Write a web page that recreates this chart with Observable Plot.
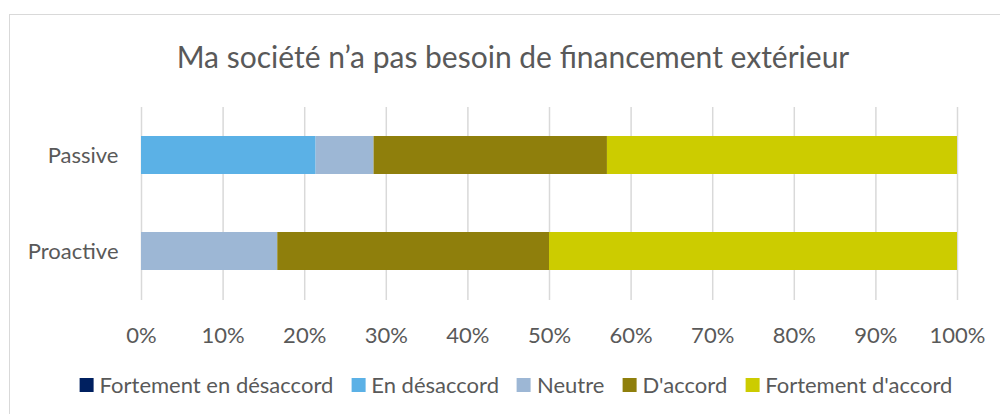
<!DOCTYPE html>
<html><head><meta charset="utf-8">
<script src="https://cdn.jsdelivr.net/npm/d3@7"></script>
<script src="https://cdn.jsdelivr.net/npm/@observablehq/plot@0.6"></script>
<style>
body{margin:0;background:#fff;}
#wrap{position:relative;width:1000px;height:414px;overflow:hidden;font-family:Lato,sans-serif;color:#595959;}
#frame{position:absolute;left:9px;top:14px;width:1000px;height:399px;border-left:1.5px solid #d9d9d9;border-top:1.5px solid #d9d9d9;}
#title{position:absolute;top:41px;left:513px;transform:translateX(-50%);font-size:30px;line-height:1;white-space:nowrap;}
#chart{position:absolute;left:0;top:0;}
#legend{position:absolute;top:374px;left:516px;transform:translateX(-50%);display:flex;gap:18px;white-space:nowrap;font-size:22px;line-height:22px;}
.item{display:flex;align-items:center;gap:6px}
.sw{width:14px;height:14px;display:inline-block}
</style></head><body>
<div id="wrap"><div id="frame"></div><div id="chart"></div><div id="title"></div><div id="legend"></div></div>
<script>
const title = "Ma société n’a pas besoin de financement extérieur";
const groups = ["Passive", "Proactive"];
const categories = ["Fortement en désaccord", "En désaccord", "Neutre", "D'accord", "Fortement d'accord"];
const colors = ["#002060", "#5BB1E6", "#9DB7D5", "#8F7F0C", "#CCCC00"];
const passive = [0, 21.4, 7.1, 28.6, 42.9];
const proactive = [0, 0, 16.7, 33.3, 50.0];
const xTicks = [0, 0.1, 0.2, 0.3, 0.4, 0.5, 0.6, 0.7, 0.8, 0.9, 1];

const series = [passive, proactive];
const data = groups.flatMap((g, gi) => categories.map((c, ci) => ({group: g, category: c, value: series[gi][ci]})));

document.getElementById("title").textContent = title;

const plot = Plot.plot({
  width: 1000, height: 414,
  marginLeft: 141, marginRight: 43, marginTop: 107, marginBottom: 114,
  x: {domain: [0, 1], label: null},
  y: {domain: groups, paddingInner: 0.6, paddingOuter: 0.3, label: null},
  color: {domain: categories, range: colors},
  style: {fontFamily: "Lato, sans-serif", fontSize: "22px", color: "#595959", background: "transparent", overflow: "visible"},
  marks: [
    Plot.gridX(xTicks, {stroke: "#d9d9d9", strokeOpacity: 1, strokeWidth: 1.5}),
    Plot.barX(data, Plot.stackX({x: "value", y: "group", fill: "category", offset: "normalize"})),
    Plot.axisX(xTicks, {tickSize: 0, tickPadding: 27, tickFormat: d3.format(".0%"), label: null}),
    Plot.axisY({tickSize: 0, tickPadding: 23, label: null})
  ]
});
document.getElementById("chart").appendChild(plot);

const legend = document.getElementById("legend");
categories.forEach((c, i) => {
  const item = document.createElement("div");
  item.className = "item";
  const sw = document.createElement("span");
  sw.className = "sw";
  sw.style.background = colors[i];
  const t = document.createElement("span");
  t.textContent = c;
  item.appendChild(sw);
  item.appendChild(t);
  legend.appendChild(item);
});
</script>
</body></html>
